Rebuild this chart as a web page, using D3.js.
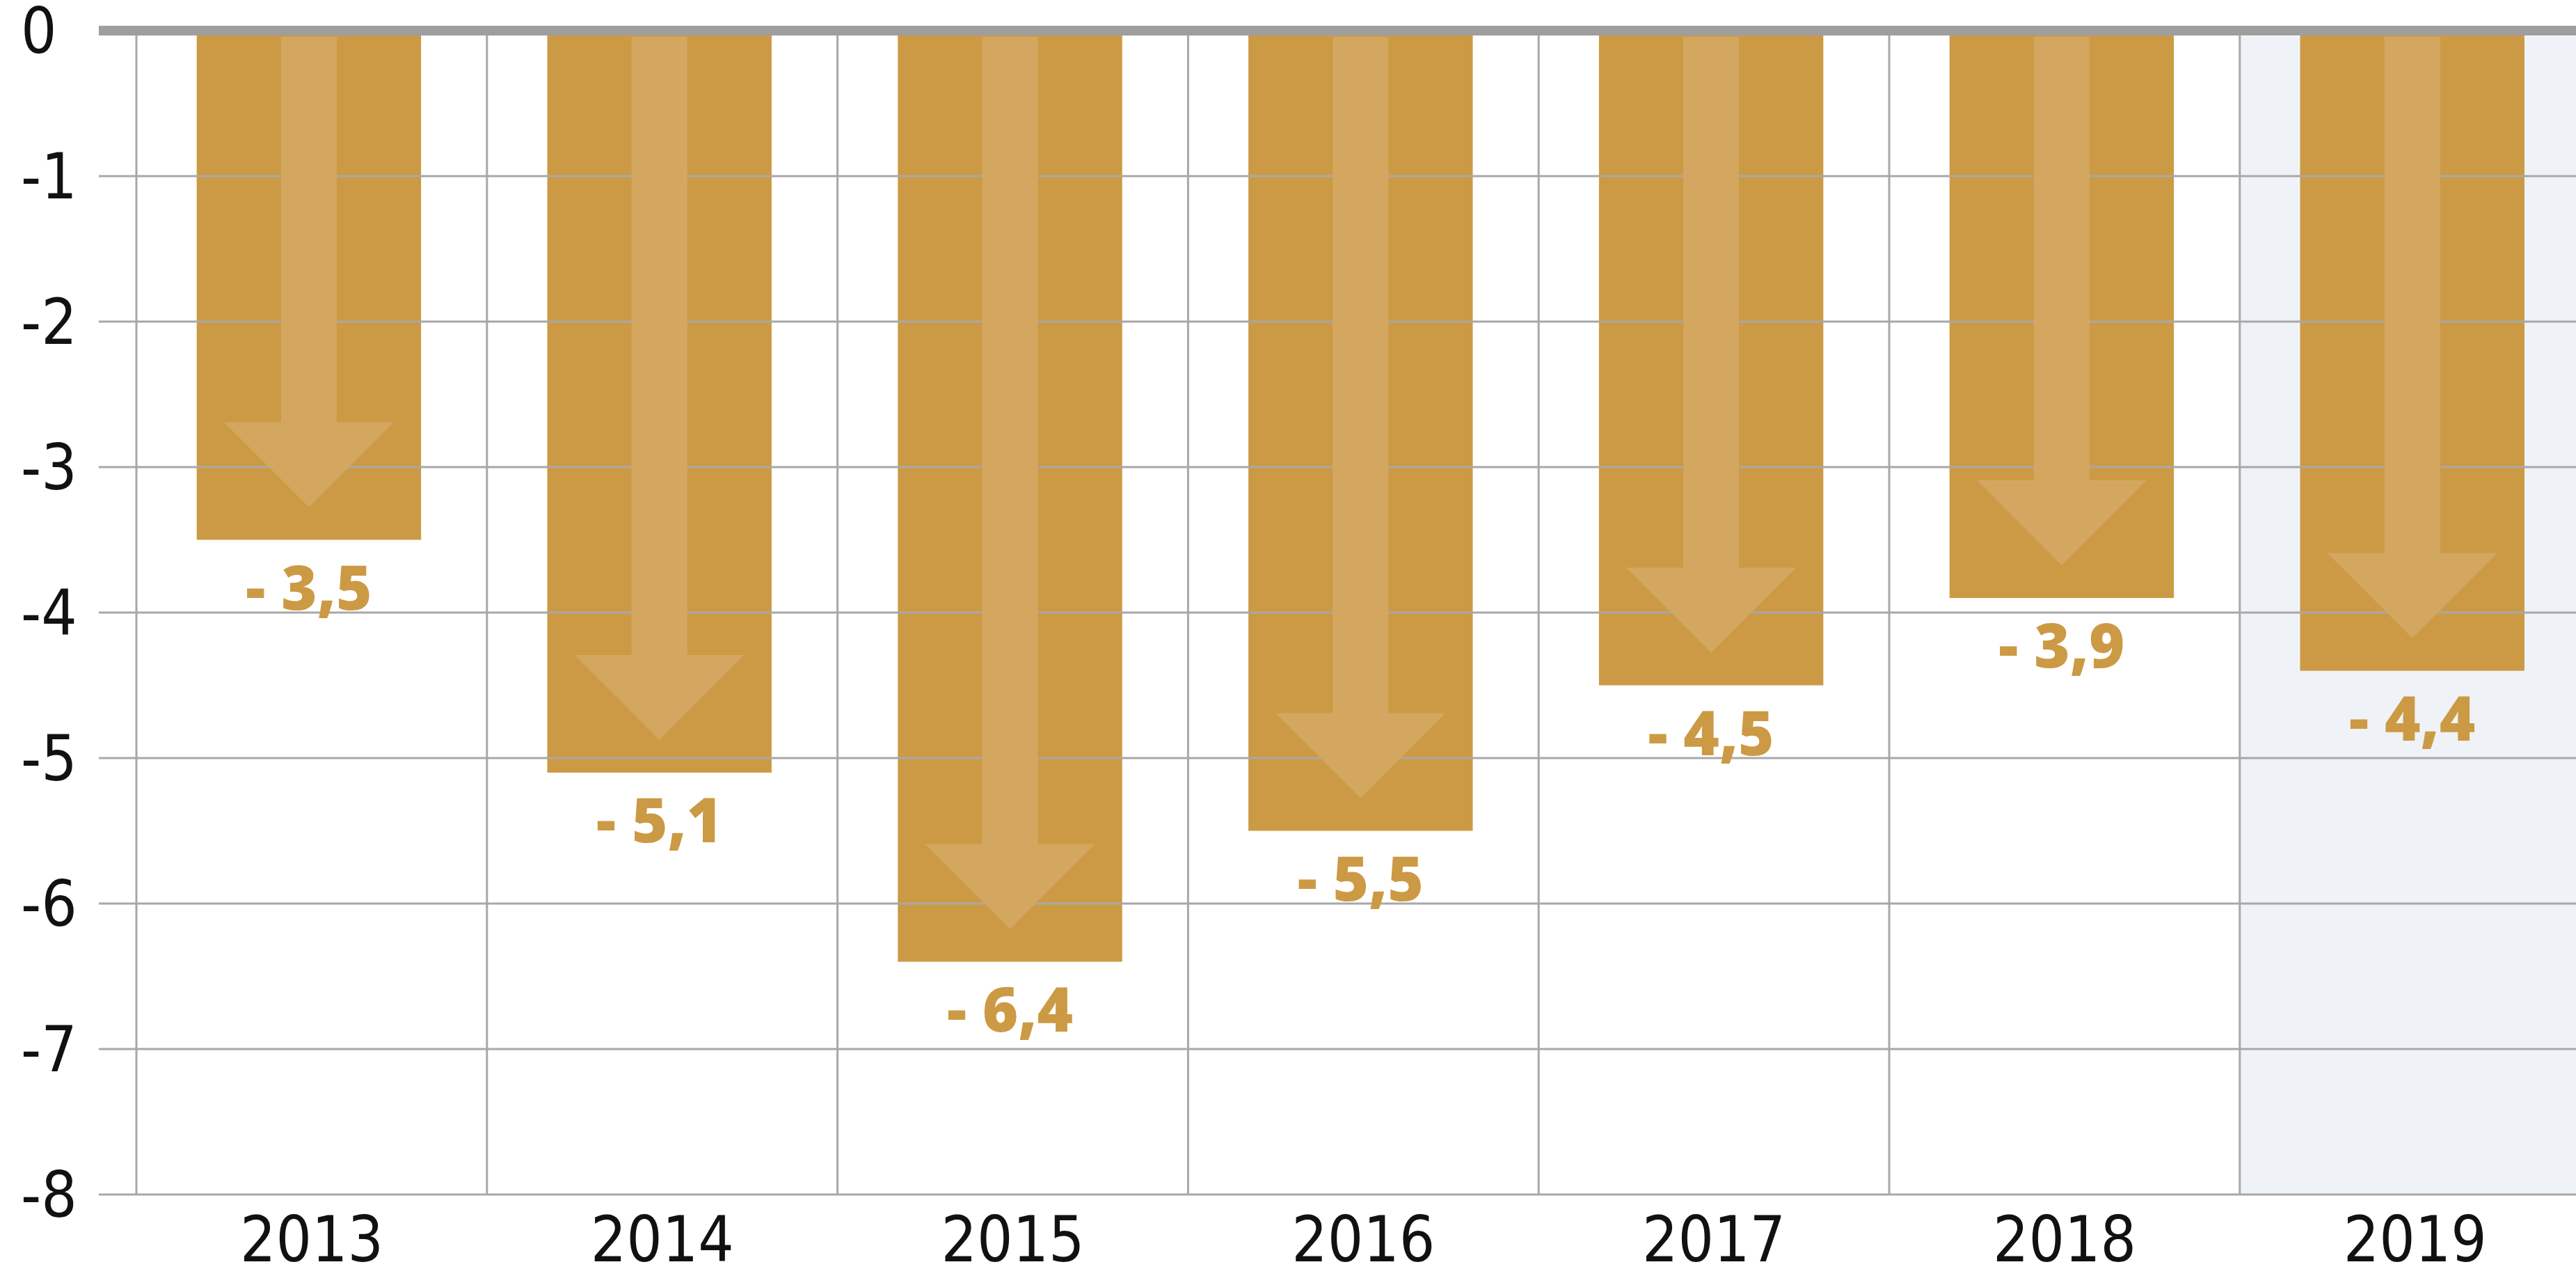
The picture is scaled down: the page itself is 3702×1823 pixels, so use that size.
<!DOCTYPE html>
<html lang="de">
  <head>
    <meta charset="utf-8">
    <title>D3js</title>
    <script src="https://cdnjs.cloudflare.com/ajax/libs/d3/7.8.5/d3.min.js"></script>
    <style>
      body { margin: 0; background: #fff; }
    </style>
  </head>

  <body>
    <div id='chart'></div>

    <script type='text/javascript'>
      // data
      let years = ['2013','2014','2015','2016','2017','2018','2019']
      let values = [-3.5, -5.1, -6.4, -5.5, -4.5, -3.9, -4.4]
      let y_ticks = [0, -1, -2, -3, -4, -5, -6, -7, -8]
      let highlight_year = '2019'

      let width = 3702
      let height = 1823
      let bar_color = '#cc9a44'
      let arrow_color = '#d4a760'
      let grid_color = '#a8a8a8'

      let canvas = d3.select('#chart').append('svg')
        .attr('width', width)
        .attr('height', height)

      // band scale: the bands start at the first vertical gridline
      let scale_x = d3.scaleBand()
        .domain(years)
        .range([196, 196 + 7 * 503.8])
        .paddingInner(0)
        .paddingOuter(0)

      let scale_y = d3.scaleLinear()
        .domain([0, -8])
        .range([44, 1716])

      let plot_left = 142
      let bar_w = scale_x.bandwidth() * 0.64
      let bar_off = (scale_x.bandwidth() - bar_w) / 2 - 4

      // shaded forecast column
      canvas.append('rect')
        .attr('x', scale_x(highlight_year))
        .attr('y', scale_y(0) + 8)
        .attr('width', width - scale_x(highlight_year))
        .attr('height', scale_y(-8) - scale_y(0) - 8)
        .style('fill', '#eff3f7')

      // bars
      canvas.selectAll('rect.bar')
        .data(values)
        .enter()
        .append('rect')
        .attr('class', 'bar')
        .attr('x', (d, i) => scale_x(years[i]) + bar_off)
        .attr('y', scale_y(0))
        .attr('width', bar_w)
        .attr('height', (d) => scale_y(d) - scale_y(0))
        .style('fill', bar_color)

      // horizontal gridlines (drawn over bars, under arrows)
      canvas.selectAll('line.hgrid')
        .data(y_ticks.filter((t) => t !== 0))
        .enter()
        .append('line')
        .attr('class', 'hgrid')
        .attr('x1', plot_left)
        .attr('x2', width)
        .attr('y1', (d) => scale_y(d))
        .attr('y2', (d) => scale_y(d))
        .style('stroke', grid_color)
        .style('stroke-width', 3)

      // vertical gridlines at band boundaries
      canvas.selectAll('line.vgrid')
        .data(years)
        .enter()
        .append('line')
        .attr('class', 'vgrid')
        .attr('x1', (d) => scale_x(d))
        .attr('x2', (d) => scale_x(d))
        .attr('y1', scale_y(0))
        .attr('y2', scale_y(-8))
        .style('stroke', grid_color)
        .style('stroke-width', 3)

      // arrows inside the bars
      let shaft = 40
      let head = 122
      canvas.selectAll('path.arrow')
        .data(values)
        .enter()
        .append('path')
        .attr('class', 'arrow')
        .attr('d', (d, i) => {
          let cx = scale_x(years[i]) + bar_off + bar_w / 2
          let tip = scale_y(d) - 47
          let top = scale_y(0) + 9
          let neck = tip - head
          return 'M' + (cx - shaft) + ',' + top +
            'L' + (cx + shaft) + ',' + top +
            'L' + (cx + shaft) + ',' + neck +
            'L' + (cx + head) + ',' + neck +
            'L' + cx + ',' + tip +
            'L' + (cx - head) + ',' + neck +
            'L' + (cx - shaft) + ',' + neck + 'Z'
        })
        .style('fill', arrow_color)

      // zero line
      canvas.append('line')
        .attr('x1', plot_left)
        .attr('x2', width)
        .attr('y1', scale_y(0))
        .attr('y2', scale_y(0))
        .style('stroke', '#9e9e9e')
        .style('stroke-width', 14)

      // value labels
      canvas.selectAll('text.value')
        .data(values)
        .enter()
        .append('text')
        .attr('class', 'value')
        .attr('x', (d, i) => scale_x(years[i]) + bar_off + bar_w / 2)
        .attr('y', (d) => scale_y(d) + 100)
        .attr('text-anchor', 'middle')
        .attr('font-family', '"Open Sans", "Noto Sans", sans-serif')
        .attr('font-weight', 800)
        .attr('font-size', '88px')
        .attr('fill', bar_color)
        .text((d) => '- ' + Math.abs(d).toFixed(1).replace('.', ','))

      // y tick labels
      canvas.selectAll('text.ytick')
        .data(y_ticks)
        .enter()
        .append('text')
        .attr('class', 'ytick')
        .attr('x', 30)
        .attr('y', (d) => scale_y(d))
        .attr('dy', '0.36em')
        .attr('text-anchor', 'start')
        .attr('font-family', '"DejaVu Sans Condensed", "DejaVu Sans", sans-serif')
        .attr('font-stretch', 'condensed')
        .attr('font-size', '90px')
        .attr('fill', '#111')
        .text((d) => d === 0 ? '0' : '-' + Math.abs(d))

      // x labels
      canvas.selectAll('text.xtick')
        .data(years)
        .enter()
        .append('text')
        .attr('class', 'xtick')
        .attr('x', (d) => scale_x(d) + scale_x.bandwidth() / 2)
        .attr('y', 1812)
        .attr('text-anchor', 'middle')
        .attr('font-family', '"DejaVu Sans Condensed", "DejaVu Sans", sans-serif')
        .attr('font-stretch', 'condensed')
        .attr('font-size', '90px')
        .attr('fill', '#111')
        .text((d) => d)
    </script>
  </body>
</html>
